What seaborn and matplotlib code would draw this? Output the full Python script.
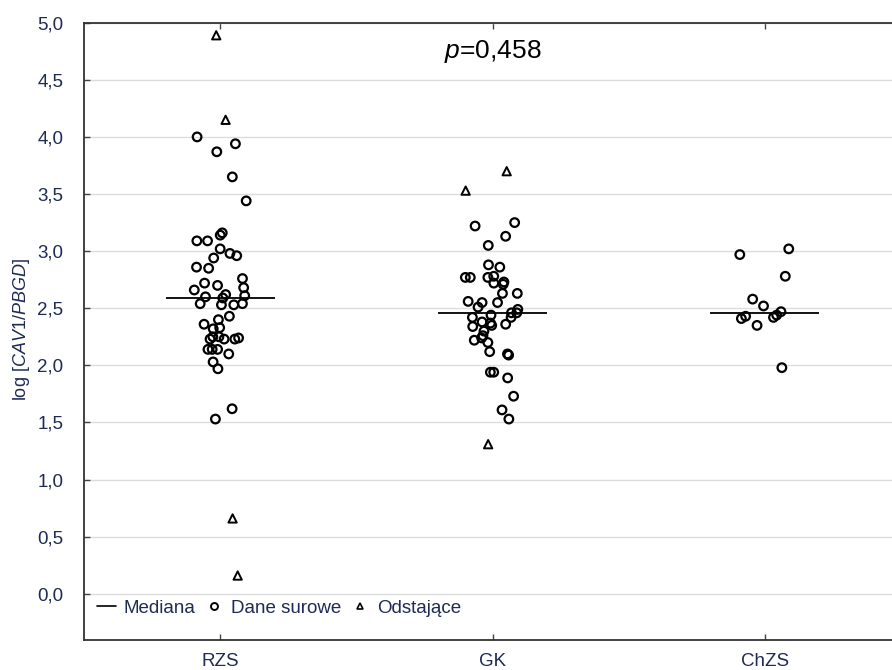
import numpy as np
import pandas as pd
import matplotlib
matplotlib.use("Agg")
import matplotlib.pyplot as plt
from matplotlib.lines import Line2D
from matplotlib.ticker import FuncFormatter
import seaborn as sns

# Groups and log-expression values (raw points and outliers kept apart)
groups = ["RZS", "GK", "ChZS"]

rzs_raw = [4.00, 3.94, 3.87, 3.65, 3.44, 3.16, 3.14, 3.09, 3.09, 3.02, 2.98,
           2.96, 2.94, 2.86, 2.85, 2.76, 2.72, 2.70, 2.68, 2.66, 2.62, 2.61,
           2.60, 2.59, 2.54, 2.54, 2.53, 2.53, 2.43, 2.40, 2.36, 2.33, 2.32,
           2.25, 2.25, 2.24, 2.23, 2.23, 2.23, 2.14, 2.14, 2.14, 2.10, 2.03,
           1.97, 1.62, 1.53]
rzs_out = [4.89, 4.15, 0.66, 0.16]

gk_raw = [3.25, 3.22, 3.13, 3.05, 2.88, 2.86, 2.78, 2.77, 2.77, 2.77, 2.73,
          2.72, 2.71, 2.63, 2.63, 2.56, 2.55, 2.55, 2.51, 2.49, 2.46, 2.46,
          2.44, 2.42, 2.42, 2.38, 2.37, 2.36, 2.35, 2.34, 2.30, 2.26, 2.24,
          2.22, 2.20, 2.12, 2.10, 2.09, 1.94, 1.94, 1.89, 1.73, 1.61, 1.53]
gk_out = [3.70, 3.53, 1.31]

chzs_raw = [3.02, 2.97, 2.78, 2.58, 2.52, 2.47, 2.44, 2.43, 2.42, 2.41,
            2.35, 1.98]
chzs_out = []

y_ticks = [0.0, 0.5, 1.0, 1.5, 2.0, 2.5, 3.0, 3.5, 4.0, 4.5, 5.0]
p_label = "0,458"
legend_labels = ["Mediana", "Dane surowe", "Odstające"]

raw_df = pd.DataFrame({
    "group": ["RZS"] * len(rzs_raw) + ["GK"] * len(gk_raw) + ["ChZS"] * len(chzs_raw),
    "value": rzs_raw + gk_raw + chzs_raw,
})
out_df = pd.DataFrame({
    "group": ["RZS"] * len(rzs_out) + ["GK"] * len(gk_out) + ["ChZS"] * len(chzs_out),
    "value": rzs_out + gk_out + chzs_out,
})

sns.set_style("white")
plt.rcParams["font.family"] = ["Liberation Sans", "DejaVu Sans"]
plt.rcParams["mathtext.fontset"] = "custom"
plt.rcParams["mathtext.rm"] = "Liberation Sans"
plt.rcParams["mathtext.it"] = "Liberation Sans:italic"

text_color = "#1f2a55"

fig = plt.figure(figsize=(8.92, 6.70), dpi=100)
ax = fig.add_axes([84 / 892, (670 - 639.5) / 670, (901 - 84) / 892, (639.5 - 22.7) / 670])

np.random.seed(7)
sns.stripplot(data=raw_df, x="group", y="value", order=groups, jitter=0.1,
              marker="o", size=6.2, color="black", edgecolor="black",
              linewidth=1.6, ax=ax, zorder=3)
sns.stripplot(data=out_df, x="group", y="value", order=groups, jitter=0.1,
              marker="^", size=6.0, color="black", edgecolor="black",
              linewidth=1.4, ax=ax, zorder=3)
for coll in ax.collections:
    coll.set_facecolor("none")
    coll.set_edgecolor("black")

# Median of every group (raw points plus outliers)
for i, g in enumerate(groups):
    vals = list(raw_df.loc[raw_df.group == g, "value"]) + list(out_df.loc[out_df.group == g, "value"])
    ax.hlines(np.median(vals), i - 0.2, i + 0.2, color="black", lw=1.3, zorder=4)

ax.set_xlim(-0.5, 2.5)
ax.set_ylim(-0.4, 5.0)
ax.set_yticks(y_ticks)
ax.yaxis.set_major_formatter(FuncFormatter(lambda v, _: f"{v:.1f}".replace(".", ",")))
ax.yaxis.grid(True, color="#dcdcdc", lw=1.0, zorder=0)
ax.xaxis.grid(False)
ax.set_axisbelow(True)
ax.set_xlabel("")
ax.set_ylabel("")

ax.tick_params(axis="y", direction="in", length=4, width=1, left=True, right=False,
               pad=15, labelsize=13.5, labelcolor=text_color, color="#444444")
ax.tick_params(axis="x", direction="in", length=4, width=1, bottom=True, top=True,
               pad=10, labelsize=13.5, labelcolor=text_color, color="#444444")
for side in ["left", "top", "bottom"]:
    ax.spines[side].set_color("#333333")
    ax.spines[side].set_linewidth(1.3)
ax.spines["right"].set_visible(False)

ax.text(0.5, 0.9525, r"$\mathit{p}$=" + p_label, transform=ax.transAxes,
        ha="center", va="center", fontsize=19, color="black")

fig.text(22 / 892, (670 - 330) / 670, r"log [$\mathit{CAV1/PBGD}$]", rotation=90,
         ha="center", va="center", fontsize=13, color=text_color)

handles = [
    Line2D([], [], color="black", lw=1.2),
    Line2D([], [], color="black", lw=0, marker="o", markersize=5,
           markerfacecolor="none", markeredgewidth=1.4),
    Line2D([], [], color="black", lw=0, marker="^", markersize=5,
           markerfacecolor="none", markeredgewidth=1.2),
]
leg = ax.legend(handles, legend_labels, loc="center left", bbox_to_anchor=(0.0, 0.051),
                ncol=3, frameon=False, fontsize=13.5, handlelength=1.0,
                handletextpad=0.4, columnspacing=0.5, borderaxespad=0.3)
for t in leg.get_texts():
    t.set_color(text_color)

fig.savefig("out.png", dpi=100, facecolor="white")
